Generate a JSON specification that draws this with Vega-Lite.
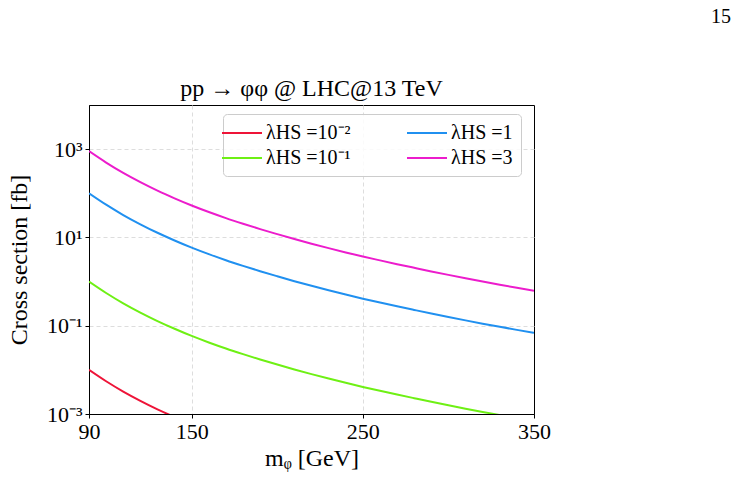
{
  "$schema": "https://vega.github.io/schema/vega-lite/v6.json",
  "background": "white",
  "padding": {"left": 6, "top": 6, "right": 5, "bottom": 5},
  "title": {"text": "15", "anchor": "end", "frame": "bounds", "dx": 180, "font": "Liberation Serif", "fontSize": 20, "fontWeight": "normal", "color": "#000", "offset": 50},
  "config": {
    "font": "Liberation Serif",
    "view": {"stroke": "#000", "strokeWidth": 1},
    "axis": {
      "labelFont": "Liberation Serif", "labelFontSize": 22, "labelColor": "#000",
      "titleFont": "Liberation Serif", "titleFontSize": 24, "titleFontWeight": "normal", "titleColor": "#000",
      "domainColor": "#000", "tickColor": "#000", "tickSize": 4,
      "gridColor": "#dddddd", "gridDash": [4, 3], "gridWidth": 1
    }
  },
  "vconcat": [
    {
      "width": 445,
      "height": 309,
      "title": {"text": "pp → φφ @ LHC@13 TeV", "font": "Liberation Serif", "fontSize": 24, "fontWeight": "normal", "color": "#000", "offset": 4},
      "data": {"values": [
        {"m": 90, "lam": "λHS =10⁻²", "sigma": 0.01},
        {"m": 100, "lam": "λHS =10⁻²", "sigma": 0.005514},
        {"m": 110, "lam": "λHS =10⁻²", "sigma": 0.003218},
        {"m": 120, "lam": "λHS =10⁻²", "sigma": 0.001986},
        {"m": 130, "lam": "λHS =10⁻²", "sigma": 0.001276},
        {"m": 140, "lam": "λHS =10⁻²", "sigma": 0.0008536},
        {"m": 150, "lam": "λHS =10⁻²", "sigma": 0.0005871},

        {"m": 90, "lam": "λHS =10⁻¹", "sigma": 1.0},
        {"m": 100, "lam": "λHS =10⁻¹", "sigma": 0.5514},
        {"m": 110, "lam": "λHS =10⁻¹", "sigma": 0.3218},
        {"m": 120, "lam": "λHS =10⁻¹", "sigma": 0.1986},
        {"m": 130, "lam": "λHS =10⁻¹", "sigma": 0.1276},
        {"m": 140, "lam": "λHS =10⁻¹", "sigma": 0.08536},
        {"m": 150, "lam": "λHS =10⁻¹", "sigma": 0.05871},
        {"m": 160, "lam": "λHS =10⁻¹", "sigma": 0.04176},
        {"m": 170, "lam": "λHS =10⁻¹", "sigma": 0.03045},
        {"m": 180, "lam": "λHS =10⁻¹", "sigma": 0.02272},
        {"m": 190, "lam": "λHS =10⁻¹", "sigma": 0.01717},
        {"m": 200, "lam": "λHS =10⁻¹", "sigma": 0.01319},
        {"m": 210, "lam": "λHS =10⁻¹", "sigma": 0.01021},
        {"m": 220, "lam": "λHS =10⁻¹", "sigma": 0.008014},
        {"m": 230, "lam": "λHS =10⁻¹", "sigma": 0.006362},
        {"m": 240, "lam": "λHS =10⁻¹", "sigma": 0.005084},
        {"m": 250, "lam": "λHS =10⁻¹", "sigma": 0.004101},
        {"m": 260, "lam": "λHS =10⁻¹", "sigma": 0.003357},
        {"m": 270, "lam": "λHS =10⁻¹", "sigma": 0.002757},
        {"m": 280, "lam": "λHS =10⁻¹", "sigma": 0.002279},
        {"m": 290, "lam": "λHS =10⁻¹", "sigma": 0.001889},
        {"m": 300, "lam": "λHS =10⁻¹", "sigma": 0.001575},
        {"m": 310, "lam": "λHS =10⁻¹", "sigma": 0.001321},
        {"m": 320, "lam": "λHS =10⁻¹", "sigma": 0.001114},
        {"m": 330, "lam": "λHS =10⁻¹", "sigma": 0.0009451},
        {"m": 340, "lam": "λHS =10⁻¹", "sigma": 0.0008054},
        {"m": 350, "lam": "λHS =10⁻¹", "sigma": 0.0006895},

        {"m": 90, "lam": "λHS =1", "sigma": 100},
        {"m": 100, "lam": "λHS =1", "sigma": 55.14},
        {"m": 110, "lam": "λHS =1", "sigma": 32.18},
        {"m": 120, "lam": "λHS =1", "sigma": 19.86},
        {"m": 130, "lam": "λHS =1", "sigma": 12.76},
        {"m": 140, "lam": "λHS =1", "sigma": 8.536},
        {"m": 150, "lam": "λHS =1", "sigma": 5.871},
        {"m": 160, "lam": "λHS =1", "sigma": 4.176},
        {"m": 170, "lam": "λHS =1", "sigma": 3.045},
        {"m": 180, "lam": "λHS =1", "sigma": 2.272},
        {"m": 190, "lam": "λHS =1", "sigma": 1.717},
        {"m": 200, "lam": "λHS =1", "sigma": 1.319},
        {"m": 210, "lam": "λHS =1", "sigma": 1.021},
        {"m": 220, "lam": "λHS =1", "sigma": 0.8014},
        {"m": 230, "lam": "λHS =1", "sigma": 0.6362},
        {"m": 240, "lam": "λHS =1", "sigma": 0.5084},
        {"m": 250, "lam": "λHS =1", "sigma": 0.4101},
        {"m": 260, "lam": "λHS =1", "sigma": 0.3357},
        {"m": 270, "lam": "λHS =1", "sigma": 0.2757},
        {"m": 280, "lam": "λHS =1", "sigma": 0.2279},
        {"m": 290, "lam": "λHS =1", "sigma": 0.1889},
        {"m": 300, "lam": "λHS =1", "sigma": 0.1575},
        {"m": 310, "lam": "λHS =1", "sigma": 0.1321},
        {"m": 320, "lam": "λHS =1", "sigma": 0.1114},
        {"m": 330, "lam": "λHS =1", "sigma": 0.09451},
        {"m": 340, "lam": "λHS =1", "sigma": 0.08054},
        {"m": 350, "lam": "λHS =1", "sigma": 0.06895},

        {"m": 90, "lam": "λHS =3", "sigma": 900},
        {"m": 100, "lam": "λHS =3", "sigma": 496.3},
        {"m": 110, "lam": "λHS =3", "sigma": 289.6},
        {"m": 120, "lam": "λHS =3", "sigma": 178.7},
        {"m": 130, "lam": "λHS =3", "sigma": 114.8},
        {"m": 140, "lam": "λHS =3", "sigma": 76.82},
        {"m": 150, "lam": "λHS =3", "sigma": 52.84},
        {"m": 160, "lam": "λHS =3", "sigma": 37.58},
        {"m": 170, "lam": "λHS =3", "sigma": 27.41},
        {"m": 180, "lam": "λHS =3", "sigma": 20.45},
        {"m": 190, "lam": "λHS =3", "sigma": 15.45},
        {"m": 200, "lam": "λHS =3", "sigma": 11.87},
        {"m": 210, "lam": "λHS =3", "sigma": 9.189},
        {"m": 220, "lam": "λHS =3", "sigma": 7.213},
        {"m": 230, "lam": "λHS =3", "sigma": 5.726},
        {"m": 240, "lam": "λHS =3", "sigma": 4.576},
        {"m": 250, "lam": "λHS =3", "sigma": 3.691},
        {"m": 260, "lam": "λHS =3", "sigma": 3.021},
        {"m": 270, "lam": "λHS =3", "sigma": 2.481},
        {"m": 280, "lam": "λHS =3", "sigma": 2.051},
        {"m": 290, "lam": "λHS =3", "sigma": 1.700},
        {"m": 300, "lam": "λHS =3", "sigma": 1.418},
        {"m": 310, "lam": "λHS =3", "sigma": 1.189},
        {"m": 320, "lam": "λHS =3", "sigma": 1.003},
        {"m": 330, "lam": "λHS =3", "sigma": 0.8506},
        {"m": 340, "lam": "λHS =3", "sigma": 0.7249},
        {"m": 350, "lam": "λHS =3", "sigma": 0.6206}
      ]},
      "mark": {"type": "line", "clip": true, "strokeWidth": 2, "interpolate": "monotone"},
      "encoding": {
        "x": {
          "field": "m", "type": "quantitative",
          "scale": {"domain": [90, 350], "nice": false, "zero": false},
          "axis": {
            "values": [90, 150, 250, 350], "title": "mᵩ [GeV]", "titlePadding": 4, "labelPadding": 3, "labelFlush": false,
            "gridOpacity": {"condition": {"test": "datum.value <= 90 || datum.value >= 350", "value": 0}, "value": 1}
          }
        },
        "y": {
          "field": "sigma", "type": "quantitative",
          "scale": {"type": "log", "domain": [0.001, 10000], "nice": false},
          "axis": {
            "values": [0.001, 0.1, 10, 1000],
            "labelExpr": "datum.value >= 999 ? '10³' : datum.value >= 9 ? '10¹' : datum.value >= 0.09 ? '10⁻¹' : '10⁻³'",
            "title": "Cross section [fb]", "titlePadding": 15, "labelPadding": 3, "labelFlush": false,
            "gridOpacity": {"condition": {"test": "datum.value <= 0.0011", "value": 0}, "value": 1}
          }
        },
        "color": {
          "field": "lam", "type": "nominal",
          "scale": {
            "domain": ["λHS =10⁻²", "λHS =1", "λHS =10⁻¹", "λHS =3"],
            "range": ["#ee1438", "#2090f0", "#6ef014", "#ec1ccc"]
          },
          "legend": {
            "title": null, "orient": "none", "legendX": 134, "legendY": 9,
            "columns": 2, "direction": "horizontal",
            "symbolType": "M-2,0H2", "symbolSize": 400, "symbolStrokeWidth": 2,
            "labelFont": "Liberation Serif", "labelFontSize": 20, "labelColor": "#000", "labelOffset": 13,
            "fillColor": "rgba(255,255,255,0.85)", "strokeColor": "#cccccc", "cornerRadius": 4,
            "padding": 8, "rowPadding": 4, "columnPadding": 52
          }
        }
      }
    }
  ]
}
